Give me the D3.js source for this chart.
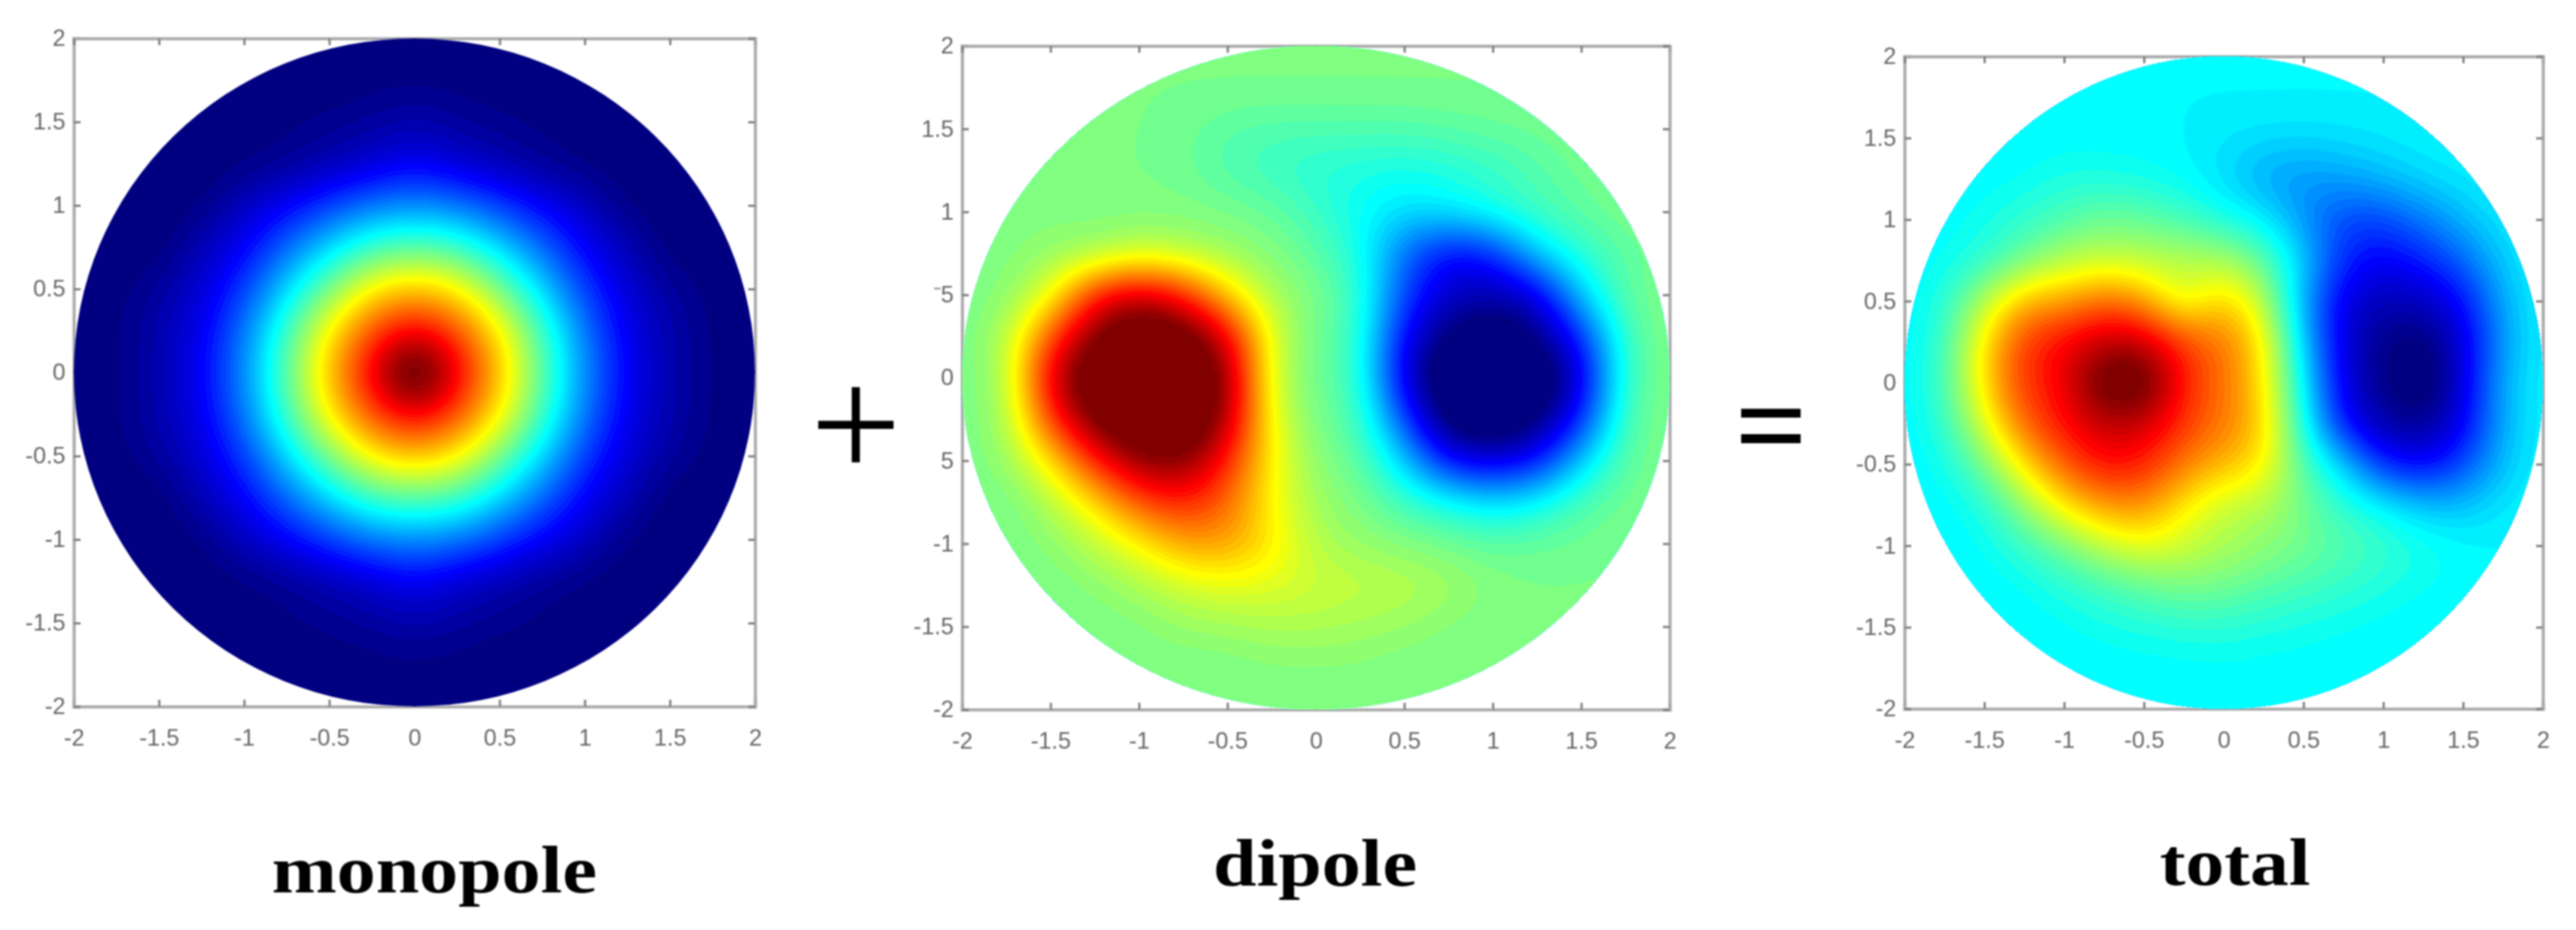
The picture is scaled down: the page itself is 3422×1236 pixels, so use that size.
<!DOCTYPE html>
<meta charset="utf-8">
<style>
    html,body{margin:0;padding:0;background:#fff;}
    svg{display:block;}
    .tick text{font-family:"Liberation Sans",sans-serif;fill:#666;}
    .label{font-family:"Liberation Serif",serif;font-weight:bold;fill:#000;}
    .sign{font-family:"Liberation Serif",serif;fill:#000;}
</style>
<svg width="3422" height="1236"></svg>
<script src="https://d3js.org/d3.v7.min.js"></script>
<script>
// values, on the jet colour range 0..1 (saturated parts of the blobs run a bit past it)
// rows go from y=2 down to y=-2, columns from x=-2 to x=2, step 0.25
var monopole=[
[0,0,0,0,0,0,0,0,0,0,0,0,0,0,0,0,0],
[0,0,0,0,0,0,0,.005,.01,.005,0,0,0,0,0,0,0],
[0,0,0,0,0,.01,.02,.035,.05,.035,.02,.01,0,0,0,0,0],
[0,0,0,0,.01,.03,.06,.09,.125,.09,.06,.03,.01,0,0,0,0],
[0,0,0,.01,.07,.125,.19,.25,.27,.25,.19,.125,.07,.01,0,0,0],
[0,0,0,.06,.125,.235,.345,.44,.47,.44,.345,.235,.125,.06,0,0,0],
[0,.005,.035,.09,.19,.345,.50,.64,.69,.64,.50,.345,.19,.09,.035,.005,0],
[0,.01,.05,.115,.25,.44,.64,.80,.89,.80,.64,.44,.25,.115,.05,.01,0],
[0,.01,.05,.125,.27,.47,.69,.89,1.1,.89,.69,.47,.27,.125,.05,.01,0],
[0,.01,.05,.115,.25,.44,.64,.80,.89,.80,.64,.44,.25,.115,.05,.01,0],
[0,.005,.035,.09,.19,.345,.50,.64,.69,.64,.50,.345,.19,.09,.035,.005,0],
[0,0,0,.06,.125,.235,.345,.44,.47,.44,.345,.235,.125,.06,0,0,0],
[0,0,0,.01,.07,.125,.19,.25,.27,.25,.19,.125,.07,.01,0,0,0],
[0,0,0,0,.01,.03,.06,.09,.125,.09,.06,.03,.01,0,0,0,0],
[0,0,0,0,0,.01,.02,.035,.05,.035,.02,.01,0,0,0,0,0],
[0,0,0,0,0,0,0,.005,.01,.005,0,0,0,0,0,0,0],
[0,0,0,0,0,0,0,0,0,0,0,0,0,0,0,0,0]
];
var dipole=[
[.5,.5,.5,.5,.5,.5,.5,.5,.5,.5,.5,.5,.5,.5,.5,.5,.5],
[.5,.5,.5,.5,.5,.5,.5,.5,.5,.5,.5,.5,.5,.5,.5,.5,.5],
[.5,.5,.5,.5,.5,.49,.47,.46,.46,.46,.46,.47,.48,.49,.5,.5,.5],
[.5,.5,.5,.5,.5,.49,.46,.44,.42,.41,.40,.41,.43,.46,.49,.5,.5],
[.5,.5,.51,.51,.51,.51,.5,.48,.44,.39,.35,.36,.40,.44,.47,.5,.5],
[.5,.51,.53,.55,.59,.57,.54,.51,.47,.40,.24,.14,.17,.33,.42,.47,.5],
[.5,.52,.62,.85,.92,.85,.68,.55,.5,.42,.2,.08,.06,.1,.33,.47,.5],
[.5,.56,.8,1.0,1.1,1.05,.9,.6,.49,.42,.13,0,-.05,.02,.17,.44,.5],
[.5,.56,.9,1.1,1.15,1.15,.97,.6,.49,.42,.1,-.06,-.1,-.06,.1,.43,.5],
[.5,.55,.82,1.02,1.12,1.12,.95,.62,.5,.44,.2,-.02,-.06,0,.17,.45,.5],
[.5,.53,.66,.85,.98,1,.85,.64,.52,.47,.33,.14,.1,.15,.33,.47,.5],
[.5,.5,.56,.67,.80,.85,.78,.63,.54,.5,.44,.39,.35,.38,.45,.49,.5],
[.5,.5,.52,.57,.64,.72,.72,.65,.56,.53,.51,.49,.47,.48,.49,.5,.5],
[.5,.5,.5,.52,.55,.59,.61,.6,.58,.57,.56,.54,.51,.5,.5,.5,.5],
[.5,.5,.5,.5,.51,.53,.54,.55,.55,.54,.53,.51,.5,.5,.5,.5,.5],
[.5,.5,.5,.5,.5,.5,.5,.51,.51,.51,.5,.5,.5,.5,.5,.5,.5],
[.5,.5,.5,.5,.5,.5,.5,.5,.5,.5,.5,.5,.5,.5,.5,.5,.5]
];
var total=[
[.375,.375,.375,.375,.375,.375,.375,.375,.375,.375,.375,.375,.375,.375,.375,.375,.375],
[.375,.375,.375,.375,.375,.375,.375,.375,.375,.375,.375,.375,.375,.375,.375,.375,.375],
[.375,.375,.375,.375,.38,.38,.38,.375,.36,.35,.345,.35,.36,.37,.375,.375,.375],
[.375,.375,.38,.39,.41,.41,.40,.385,.35,.30,.28,.29,.31,.34,.36,.375,.375],
[.375,.38,.40,.43,.46,.49,.48,.45,.41,.37,.28,.20,.20,.25,.31,.36,.375],
[.375,.39,.43,.50,.56,.58,.57,.56,.55,.47,.33,.17,.125,.16,.23,.33,.375],
[.375,.42,.56,.70,.72,.78,.73,.60,.68,.56,.3,.11,.06,.07,.14,.30,.375],
[.375,.44,.65,.82,.88,.94,.93,.82,.76,.64,.33,.1,.02,0,.1,.28,.375],
[.375,.45,.66,.83,.89,1.05,1.05,.85,.77,.65,.37,.11,.02,-.03,.1,.3,.375],
[.375,.43,.6,.78,.87,.94,.93,.83,.76,.67,.4,.15,.05,.03,.12,.3,.375],
[.375,.40,.5,.66,.79,.87,.85,.76,.70,.64,.46,.33,.17,.13,.2,.32,.375],
[.375,.38,.42,.53,.65,.73,.74,.65,.58,.56,.49,.42,.37,.32,.32,.36,.375],
[.375,.375,.39,.44,.5,.57,.61,.58,.55,.52,.49,.46,.43,.4,.38,.375,.375],
[.375,.375,.375,.39,.42,.45,.48,.5,.49,.47,.45,.43,.41,.39,.38,.375,.375],
[.375,.375,.375,.375,.385,.4,.41,.42,.42,.41,.4,.39,.38,.375,.375,.375,.375],
[.375,.375,.375,.375,.375,.375,.38,.38,.385,.38,.38,.375,.375,.375,.375,.375,.375],
[.375,.375,.375,.375,.375,.375,.375,.375,.375,.375,.375,.375,.375,.375,.375,.375,.375]
];
var tickValues=[-2,-1.5,-1,-.5,0,.5,1,1.5,2];
var xLabels=["-2","-1.5","-1","-0.5","0","0.5","1","1.5","2"];
var yLabels=["-2","-1.5","-1","-0.5","0","0.5","1","1.5","2"];
var dipoleYLabels=["-2","-1.5","-1","5","0","\u207b5","1","1.5","2"];
var titles=["monopole","dipole","total"];

var panels=[
    {grid:monopole,title:titles[0],yl:yLabels,x0:98,x1:1003,y0:51,y1:939,tx:577,ty:1186,tw:432},
    {grid:dipole,title:titles[1],yl:dipoleYLabels,x0:1278,x1:2218,y0:61,y1:943,tx:1747,ty:1177,tw:271},
    {grid:total,title:titles[2],yl:yLabels,x0:2530,x1:3378,y0:75,y1:942,tx:2969,ty:1176,tw:200}
];

var svg=d3.select("svg");
var defs=svg.append("defs");
defs.append("filter").attr("id","soft").append("feGaussianBlur").attr("stdDeviation",1.3);
defs.append("filter").attr("id","softer").append("feGaussianBlur").attr("stdDeviation",.9);

// matlab jet
var jet=d3.scaleLinear()
    .domain([0,1/8,3/8,5/8,7/8,1])
    .range(["#000080","#0000ff","#00ffff","#ffff00","#ff0000","#800000"])
    .clamp(true);

// smooth resampling of the read values so the contours don't go polygonal
function catmull(p0,p1,p2,p3,t){
    return .5*(2*p1+(p2-p0)*t+(2*p0-5*p1+4*p2-p3)*t*t+(3*p1-p0-3*p2+p3)*t*t*t);
}
function resample(grid,k){
    var n=grid.length,m=(n-1)*k+1,out=new Float64Array(m*m);
    function at(r,c){
        return grid[Math.max(0,Math.min(n-1,r))][Math.max(0,Math.min(n-1,c))];
    }
    for(var j=0;j<m;j++){
        var r=Math.min(n-2,Math.floor(j/k)),v=j/k-r;
        for(var i=0;i<m;i++){
            var c=Math.min(n-2,Math.floor(i/k)),u=i/k-c;
            var rows=[];
            for(var q=-1;q<3;q++){
                rows.push(catmull(at(r+q,c-1),at(r+q,c),at(r+q,c+1),at(r+q,c+2),u));
            }
            out[j*m+i]=catmull(rows[0],rows[1],rows[2],rows[3],v);
        }
    }
    d3.blur2({data:out,width:m,height:m},3);
    for(var z=0;z<out.length;z++) out[z]=Math.max(0,Math.min(1,out[z]));
    return {values:out,size:m};
}

// levels sit just under the 1/64 steps, flat areas at .5 or .375 were flickering across a level
var eps=.001;
var levels=d3.range(0,65).map(function(d){ return d/64-eps; });

panels.forEach(function(p,idx){
    var x=d3.scaleLinear().domain([-2,2]).range([p.x0,p.x1]);
    var y=d3.scaleLinear().domain([-2,2]).range([p.y1,p.y0]);
    var g=svg.append("g");

    defs.append("clipPath").attr("id","disc"+idx)
        .append("ellipse")
        .attr("cx",x(0)).attr("cy",y(0))
        .attr("rx",x(2)-x(0)).attr("ry",y(0)-y(2));

    // frame and ticks
    var ax=g.append("g").attr("filter","url(#soft)").attr("color","#a8a8a8");
    var fmtX=function(d,i){ return xLabels[i]; };
    var fmtY=function(d,i){ return p.yl[i]; };
    var bottom=d3.axisBottom(x).tickValues(tickValues).tickSize(-9).tickPadding(30).tickFormat(fmtX);
    var left=d3.axisLeft(y).tickValues(tickValues).tickSize(-9).tickPadding(11).tickFormat(fmtY);
    var top=d3.axisTop(x).tickValues(tickValues).tickSize(-9).tickFormat("");
    var right=d3.axisRight(y).tickValues(tickValues).tickSize(-9).tickFormat("");
    ax.append("g").attr("transform","translate(0,"+p.y1+")").call(bottom);
    ax.append("g").attr("transform","translate("+p.x0+",0)").call(left);
    ax.append("g").attr("transform","translate(0,"+p.y0+")").call(top);
    ax.append("g").attr("transform","translate("+p.x1+",0)").call(right);
    ax.selectAll(".domain").attr("stroke-width",4);
    ax.selectAll(".tick line").attr("stroke-width",3).attr("stroke","#808080");
    ax.selectAll(".tick text").attr("font-size",31);
    ax.selectAll("text").attr("fill","#666");

    // filled contours
    var fine=resample(p.grid,8);
    var sx=d3.scaleLinear().domain([.5,fine.size-.5]).range([p.x0,p.x1]);
    var sy=d3.scaleLinear().domain([.5,fine.size-.5]).range([p.y0,p.y1]);
    var path=d3.geoPath(d3.geoTransform({point:function(a,b){ this.stream.point(sx(a),sy(b)); }}));
    var contours=d3.contours().size([fine.size,fine.size]).thresholds(levels)(fine.values);
    g.append("g").attr("filter","url(#softer)")
      .append("g").attr("clip-path","url(#disc"+idx+")")
        .selectAll("path")
        .data(contours)
        .enter().append("path")
        .attr("d",path)
        .attr("fill",function(d){ return jet(d.value+eps); })
        .attr("stroke",function(d){ return jet(d.value+eps); })
        .attr("stroke-width",.5);

    // title
    svg.append("text")
        .attr("class","label")
        .attr("x",p.tx).attr("y",p.ty)
        .attr("text-anchor","middle")
        .attr("font-size",88)
        .attr("textLength",p.tw)
        .attr("lengthAdjust","spacingAndGlyphs")
        .attr("filter","url(#softer)")
        .text(p.title);
});

// + and = between the panels
svg.append("text").attr("class","sign")
    .attr("x",1137).attr("y",578).attr("dy","0.27em")
    .attr("text-anchor","middle").attr("font-size",215)
    .attr("filter","url(#softer)").text("+");
svg.append("text").attr("class","sign")
    .attr("x",2353).attr("y",576).attr("dy","0.27em")
    .attr("text-anchor","middle").attr("font-size",170).attr("font-weight","bold")
    .attr("filter","url(#softer)").text("=");
</script>
